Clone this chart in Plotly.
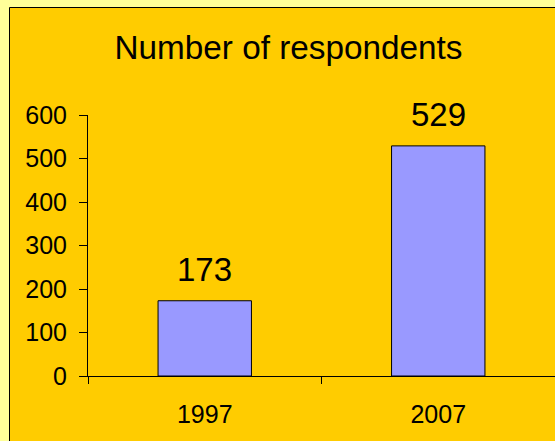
import plotly.graph_objects as go

categories = ["1997", "2007"]
values = [173, 529]
y_ticks = [0, 100, 200, 300, 400, 500, 600]
title_text = "Number of respondents"

W, H = 555, 441
ml, mr, mt, mb = 88, 0, 115, 65
pw, ph = W - ml - mr, H - mt - mb

fig = go.Figure()
fig.add_trace(go.Bar(
    x=categories, y=values, width=0.4,
    marker=dict(color="#9999FF", line=dict(color="#000000", width=1)),
    hoverinfo="skip",
))

for i, v in enumerate(values):
    fig.add_annotation(x=i, y=v, xref="x", yref="y", text=str(v),
                       showarrow=False, yanchor="bottom", yshift=11,
                       font=dict(size=33, color="#000000"))

fig.add_shape(type="rect", xref="paper", yref="paper",
              x0=(9.5 - ml) / pw, x1=1.2,
              y0=-0.5, y1=1 + (mt - 7.5) / ph,
              line=dict(color="#000000", width=1),
              fillcolor="#FFCC00", layer="below")

fig.update_layout(
    width=W, height=H,
    margin=dict(l=ml, r=mr, t=mt, b=mb, pad=0),
    paper_bgcolor="#FFFF99",
    plot_bgcolor="rgba(0,0,0,0)",
    font=dict(family="Liberation Sans, Arial, sans-serif", color="#000000"),
    showlegend=False,
    title=dict(text=title_text, x=288.5 / W, xanchor="center",
               y=1 - 47 / H, yanchor="middle", yref="container",
               font=dict(size=33.3, color="#000000")),
    xaxis=dict(type="category", range=[-0.5, 1.5], showline=True,
               linecolor="#000000", linewidth=1, ticks="outside",
               tickson="boundaries", ticklen=7, tickcolor="#000000",
               tickfont=dict(size=25), showgrid=False, zeroline=False,
               ticklabelstandoff=16),
    yaxis=dict(range=[0, 600], tickvals=y_ticks, showline=True,
               linecolor="#000000", linewidth=1, ticks="outside",
               ticklen=8, tickcolor="#000000", tickfont=dict(size=25),
               showgrid=False, zeroline=False, ticklabelstandoff=7),
)

fig.write_html("out.html")
